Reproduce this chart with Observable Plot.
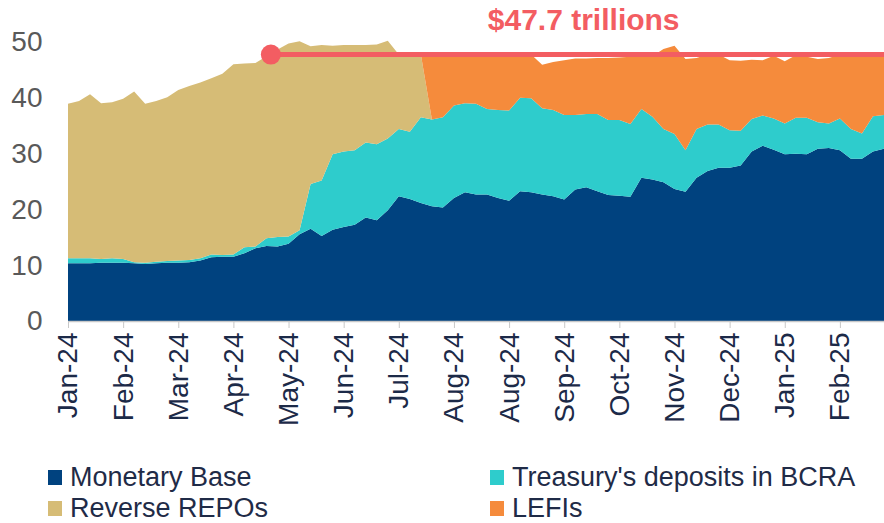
<!DOCTYPE html>
<html><head><meta charset="utf-8">
<script src="https://cdn.jsdelivr.net/npm/d3@7"></script>
<script src="https://cdn.jsdelivr.net/npm/@observablehq/plot@0.6"></script>
<style>
body{margin:0;background:#fff;font-family:"Liberation Sans",Arial,sans-serif;}
#wrap{position:relative;width:884px;height:523px;overflow:hidden;}
.leg{position:absolute;display:flex;align-items:center;font-size:27px;line-height:28px;color:#1f2b47;white-space:nowrap;}
.sw{width:14px;height:15px;margin-right:8px;}
</style></head><body><div id="wrap"><div id="chart"></div><div id="legend"></div></div>
<script>
const monthLabels = ["Jan-24","Feb-24","Mar-24","Apr-24","May-24","Jun-24","Jul-24","Aug-24","Aug-24","Sep-24","Oct-24","Nov-24","Dec-24","Jan-25","Feb-25"];
const seriesNames = ["Monetary Base","Treasury's deposits in BCRA","Reverse REPOs","LEFIs"];
const seriesColors = ["#00427f","#2ecccc","#d6bc76","#f58b3c"];
const yTicks = [0,10,20,30,40,50];

const monetaryBase = [10.3,10.3,10.3,10.4,10.4,10.4,10.3,10.2,10.3,10.4,10.4,10.5,10.8,11.4,11.5,11.5,12.1,13.0,13.4,13.3,13.8,15.5,16.5,15.2,16.3,16.8,17.2,18.5,18.0,19.8,22.3,21.8,21.1,20.5,20.3,22.0,23.0,22.6,22.6,22.0,21.5,23.2,23.0,22.6,22.3,21.7,23.5,23.9,23.2,22.5,22.4,22.2,25.6,25.3,24.8,23.6,23.1,25.6,26.8,27.4,27.4,27.8,30.3,31.3,30.6,29.8,29.9,29.8,30.8,30.9,30.5,29.0,29.0,30.3,30.8];
const treasuryDeposits = [0.9,0.9,0.9,0.7,0.8,0.7,0.2,0.2,0.3,0.3,0.4,0.4,0.4,0.5,0.3,0.4,1.1,0.3,1.4,1.7,1.3,0.7,8.0,9.9,13.5,13.5,13.3,13.4,13.6,12.8,12.0,12.0,15.3,15.5,16.1,16.5,15.9,16.2,15.3,15.7,16.1,16.7,16.8,15.4,15.4,15.1,13.3,13.1,13.8,13.4,13.5,13.0,12.3,11.2,9.5,9.8,7.4,8.7,8.3,7.7,6.7,6.2,5.8,5.4,5.6,5.5,6.4,6.5,4.7,4.4,5.7,5.3,4.5,6.3,6.0];
const reverseRepos = [27.6,28.1,29.3,27.8,27.9,28.6,30.5,28.4,28.7,29.3,30.5,31.1,31.4,31.5,32.4,34.0,32.8,32.8,32.5,33.5,34.5,33.8,24.6,24.2,19.4,19.0,18.8,17.4,17.8,17.5,13.3,13.8,11.2,0,0,0,0,0,0,0,0,0,0,0,0,0,0,0,0,0,0,0,0,0,0,0,0,0,0,0,0,0,0,0,0,0,0,0,0,0,0,0,0,0,0];
const lefis = [0,0,0,0,0,0,0,0,0,0,0,0,0,0,0,0,0,0,0,0,0,0,0,0,0,0,0,0,0,0,0,0,0,11.6,11.2,9.1,8.7,8.8,9.7,9.9,10.0,7.7,7.8,7.8,8.6,9.8,10.1,9.9,10.0,11.1,11.2,12.0,9.4,10.8,14.3,15.8,16.3,12.7,12.5,12.5,12.5,12.5,10.6,9.9,11.2,11.1,11.2,10.9,11.3,11.7,11.4,13.3,14.1,11.0,10.8];

const peakLevel = 47.7;
const peakLabel = "$47.7 trillions";
const peakIndex = 18.35;
const red = "#f35d62";

const seriesValues = [monetaryBase, treasuryDeposits, reverseRepos, lefis];
const n = monetaryBase.length;
const rows = [];
seriesNames.forEach((s, k) => seriesValues[k].forEach((v, i) => rows.push({i, series: s, value: v})));
const tickIdx = monthLabels.map((_, k) => k * 5);
const ff = '"Liberation Sans", Arial, sans-serif';

const chart = Plot.plot({
  width: 884, height: 440,
  marginLeft: 68, marginRight: 0, marginTop: 30, marginBottom: 119,
  style: {fontFamily: ff, background: "white", overflow: "visible"},
  x: {domain: [0, n - 1], axis: null, label: null},
  y: {domain: [0, 52], axis: null, label: null},
  color: {domain: seriesNames, range: seriesColors},
  marks: [
    Plot.areaY(rows, Plot.stackY({x: "i", y: "value", fill: "series", order: seriesNames})),
    Plot.ruleY([0], {stroke: "#c8c8c8", strokeWidth: 1.5}),
    Plot.axisY({ticks: yTicks, label: null, tickSize: 0, tickPadding: 26, fontSize: 28, fill: "#595959", fontFamily: ff}),
    Plot.axisX({ticks: tickIdx, label: null, tickFormat: i => monthLabels[i / 5], tickRotate: -90, tickSize: 7, tickPadding: 4, fontSize: 28, fill: "#1c2a48", stroke: "#c8c8c8", fontFamily: ff}),
    Plot.ruleY([peakLevel], {x1: peakIndex, x2: n - 1, stroke: red, strokeWidth: 5}),
    Plot.dot([peakLevel], {x: () => peakIndex, y: d => d, r: 10, fill: red}),
    Plot.text([peakLabel], {x: () => (peakIndex + n - 1) / 2, y: () => peakLevel, dx: 6, dy: -34, text: d => d, fill: red, fontSize: 30, fontWeight: "bold", fontFamily: ff})
  ]
});
document.getElementById("chart").appendChild(chart);

const legendPos = [[48, 463], [490, 463], [48, 494], [490, 494]];
const leg = document.getElementById("legend");
seriesNames.forEach((s, k) => {
  const d = document.createElement("div");
  d.className = "leg";
  d.style.left = legendPos[k][0] + "px";
  d.style.top = legendPos[k][1] + "px";
  d.innerHTML = `<span class="sw" style="background:${seriesColors[k]}"></span><span>${s}</span>`;
  leg.appendChild(d);
});
</script></body></html>
